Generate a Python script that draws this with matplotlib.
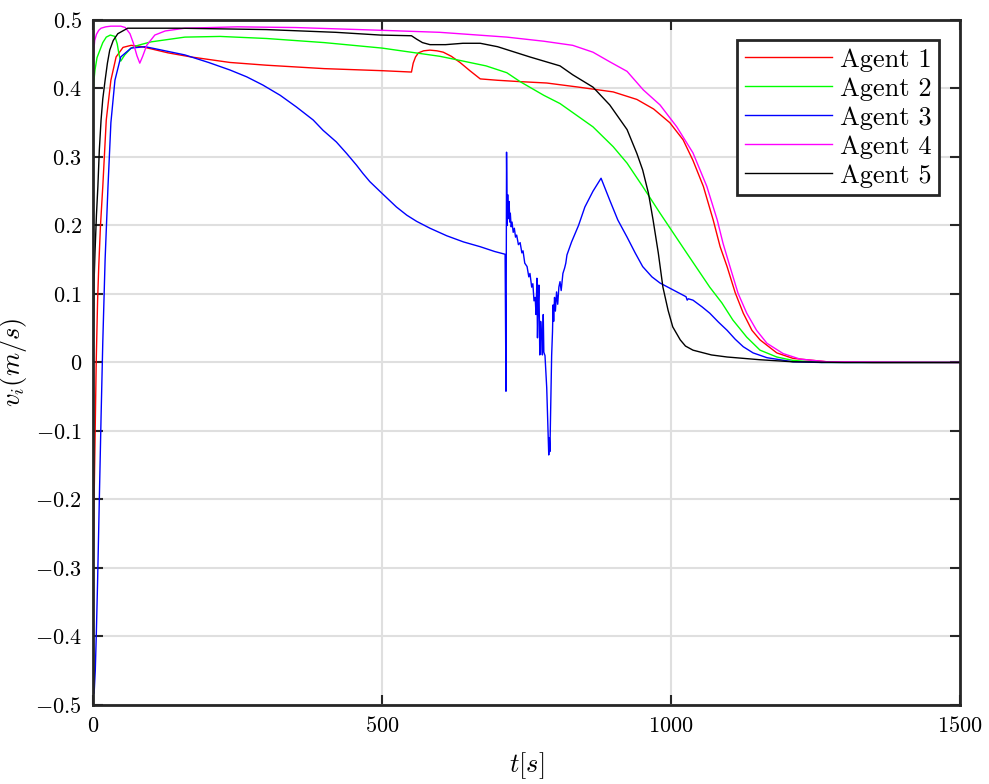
import matplotlib
matplotlib.use("Agg")
import matplotlib.pyplot as plt

# ---------------- data ----------------
t1 = [0, 2, 4, 5.6, 8, 10, 13, 17, 23, 31, 40, 52, 66, 85, 100, 130, 170, 237, 300, 400, 500, 551,
      554, 558, 563, 572, 583, 595, 606, 620, 635, 652, 670, 700, 739, 785, 840, 900, 941, 970,
      998, 1021, 1038, 1056, 1073, 1085, 1097, 1111, 1125, 1140, 1154, 1183, 1211, 1270, 1350, 1500]
v1 = [-0.31, -0.20, -0.09, 0.0, 0.09, 0.14, 0.20, 0.257, 0.354, 0.412, 0.446, 0.460, 0.463, 0.461, 0.458,
      0.452, 0.446, 0.438, 0.434, 0.429, 0.426, 0.424,
      0.437, 0.446, 0.452, 0.455, 0.456, 0.455, 0.453, 0.447, 0.438, 0.426, 0.414, 0.412, 0.410, 0.408,
      0.402, 0.395, 0.384, 0.370,
      0.350, 0.325, 0.295, 0.257, 0.208, 0.169, 0.140, 0.102, 0.072, 0.047, 0.033, 0.014, 0.006, 0.001,
      0.0, 0.0]

t2 = [0, 1.5, 3.5, 7, 12, 17, 23, 30, 38, 42, 45, 48, 55, 66, 78, 100, 159, 220, 300, 400, 500, 600,
      629, 680, 716, 739, 780, 808, 865, 900, 924, 951, 981, 1004, 1027, 1047, 1067, 1088, 1107, 1131,
      1154, 1183, 1211, 1260, 1500]
v2 = [0.386, 0.41, 0.427, 0.445, 0.456, 0.467, 0.475, 0.478, 0.476, 0.465, 0.450, 0.440, 0.449, 0.459,
      0.463, 0.468, 0.475, 0.476, 0.473, 0.467, 0.459, 0.447,
      0.442, 0.433, 0.423, 0.410, 0.390, 0.378, 0.344, 0.315, 0.291, 0.257, 0.218, 0.189, 0.160, 0.135,
      0.110, 0.087, 0.062, 0.037, 0.018, 0.008, 0.003, 0.0, 0.0]

# agent 3: smooth part, noisy part, smooth tail
t3 = ([0, 1, 2, 4, 6, 8, 10, 12, 14, 17, 21, 26, 31, 38, 48, 66, 90, 102, 159, 200, 237, 266, 294, 324,
       352, 381, 398, 421, 439, 456, 467, 479, 500, 525, 543, 560, 583, 612, 641, 670, 695, 713]
      + [714.5, 715.5, 716.5, 717.5, 718.5, 720, 721, 722, 723.5, 725, 727, 729, 731, 733, 736, 739, 742,
         744, 747, 751, 754, 756, 759, 761, 763, 765, 766.5, 768, 769, 770, 771.5, 773, 774.5, 776, 777.5,
         779, 780, 782, 785, 787, 788.5, 789.5, 790.5, 792, 793.5, 795, 796, 797, 798.5, 800, 802, 804, 806,
         808, 810, 813, 816, 818, 820, 828, 840, 851, 865, 879]
      + [894, 908, 924, 938, 951, 967, 981, 1010, 1026, 1028, 1030, 1038, 1054, 1067, 1082, 1097, 1111,
         1125, 1142, 1166, 1211, 1260, 1500])
v3 = ([-0.35, -0.44, -0.483, -0.45, -0.39, -0.32, -0.24, -0.16, -0.08, 0.03, 0.15, 0.257, 0.35, 0.412,
       0.446, 0.459, 0.461, 0.459, 0.449, 0.438, 0.427, 0.417, 0.405, 0.390,
       0.373, 0.354, 0.339, 0.322, 0.305, 0.288, 0.276, 0.264, 0.247, 0.227, 0.215, 0.206, 0.196, 0.185,
       0.176, 0.169, 0.162, 0.158]
      + [-0.042, 0.307, 0.20, 0.245, 0.21, 0.235, 0.205, 0.218, 0.198, 0.205, 0.19, 0.196, 0.183, 0.186,
         0.172, 0.175, 0.16, 0.163, 0.145, 0.14, 0.125, 0.13, 0.11, 0.115, 0.09, 0.095, 0.07, 0.123, 0.036,
         0.08, 0.113, 0.011, 0.06, 0.04, 0.011, 0.07, 0.015, 0.01, -0.037, -0.096, -0.135, -0.11, -0.13,
         -0.058, 0.01, 0.045, 0.084, 0.06, 0.095, 0.075, 0.103, 0.085, 0.11, 0.118, 0.105, 0.13, 0.138,
         0.145, 0.157, 0.176, 0.200, 0.227, 0.25, 0.269]
      + [0.237, 0.208, 0.183, 0.160, 0.140, 0.125, 0.116, 0.103, 0.096, 0.091, 0.093, 0.091, 0.081, 0.072,
         0.059, 0.047, 0.034, 0.023, 0.014, 0.007, 0.001, 0.0, 0.0])

t4 = [0, 1.5, 3, 6, 10, 14, 22, 31, 48, 56, 64, 70, 76, 81, 86, 93, 107, 125, 159, 250, 350, 497, 600,
      716, 780, 830, 865, 894, 924, 952, 981, 1010, 1038, 1062, 1080, 1090, 1102, 1116, 1131, 1148, 1166,
      1194, 1223, 1270, 1500]
v4 = [0.431, 0.455, 0.47, 0.479, 0.485, 0.488, 0.490, 0.491, 0.491, 0.489, 0.480, 0.466, 0.448, 0.437,
      0.447, 0.463, 0.478, 0.484, 0.488, 0.490, 0.489, 0.485, 0.482,
      0.475, 0.469, 0.463, 0.453, 0.439, 0.425, 0.398, 0.376, 0.344, 0.306, 0.257, 0.208, 0.174, 0.140,
      0.101, 0.072, 0.047, 0.028, 0.013, 0.005, 0.001, 0.0]

t5 = [0, 1, 2, 3.5, 6, 8.5, 11, 14, 17, 21, 25, 29, 35, 43, 60, 150, 300, 420, 497, 551, 560, 570,
      583, 610, 640, 670, 700, 756, 808, 830, 865, 894, 924, 941, 951, 961, 969, 978, 986, 995, 1003, 1016,
      1025, 1038, 1070, 1097, 1154, 1211, 1300, 1500]
v5 = [-0.02, 0.06, 0.12, 0.16, 0.215, 0.257, 0.31, 0.354, 0.385, 0.412, 0.437, 0.456, 0.47, 0.48, 0.488,
      0.488, 0.486, 0.482, 0.478, 0.477, 0.472, 0.467,
      0.464, 0.464, 0.466, 0.466, 0.461, 0.446, 0.433, 0.420, 0.402, 0.376, 0.340, 0.305, 0.281, 0.247,
      0.208, 0.160, 0.110, 0.076, 0.052, 0.033, 0.024, 0.018, 0.011, 0.008, 0.004, 0.001, 0.0, 0.0]

labels = ["Agent 1", "Agent 2", "Agent 3", "Agent 4", "Agent 5"]
colors = ["#ff0000", "#00ff00", "#0000ff", "#ff00ff", "#000000"]
x_ticks = [0, 500, 1000, 1500]
y_ticks = [-0.5, -0.4, -0.3, -0.2, -0.1, 0, 0.1, 0.2, 0.3, 0.4, 0.5]
y_ticklabels = ["$-0.5$", "$-0.4$", "$-0.3$", "$-0.2$", "$-0.1$", "$0$",
                "$0.1$", "$0.2$", "$0.3$", "$0.4$", "$0.5$"]

# ---------------- style ----------------
plt.rcParams["font.family"] = "serif"
plt.rcParams["font.serif"] = ["cmr10", "DejaVu Serif"]
plt.rcParams["mathtext.fontset"] = "cm"
plt.rcParams["axes.formatter.use_mathtext"] = True

fig = plt.figure(figsize=(9.89, 7.84), dpi=100)
ax = fig.add_axes([0.094, 0.1008, 0.8767, 0.8737])

series = [(t1, v1), (t2, v2), (t3, v3), (t4, v4), (t5, v5)]
for (t, v), lab, c in zip(series, labels, colors):
    ax.plot(t, v, color=c, lw=1.0, label=lab)

ax.set_xlim(0, 1500)
ax.set_ylim(-0.5, 0.5)
ax.set_xticks(x_ticks)
ax.set_yticks(y_ticks)
ax.set_xticklabels([f"${v}$" for v in x_ticks])
ax.set_yticklabels(y_ticklabels)
ax.grid(True, color="#dfdfdf", lw=1.5)
ax.set_axisbelow(True)
ax.tick_params(direction="in", length=7, width=1.5, top=True, right=True,
               labelsize=16, color="#262626", pad=8)
for s in ax.spines.values():
    s.set_linewidth(2.0)
    s.set_color("#262626")

ax.set_xlabel("$t[s]$", fontsize=19, labelpad=10)
ax.set_ylabel("$v_i(m/s)$", fontsize=19, labelpad=4)

leg = ax.legend(loc="upper right", fontsize=19, fancybox=False, framealpha=1,
                edgecolor="#262626", borderpad=0.3, labelspacing=0.2,
                handlelength=3.3, handletextpad=0.3, borderaxespad=0.0,
                bbox_to_anchor=(0.976, 0.971))
leg.get_frame().set_linewidth(2.0)

fig.savefig("out.png", dpi=100)
